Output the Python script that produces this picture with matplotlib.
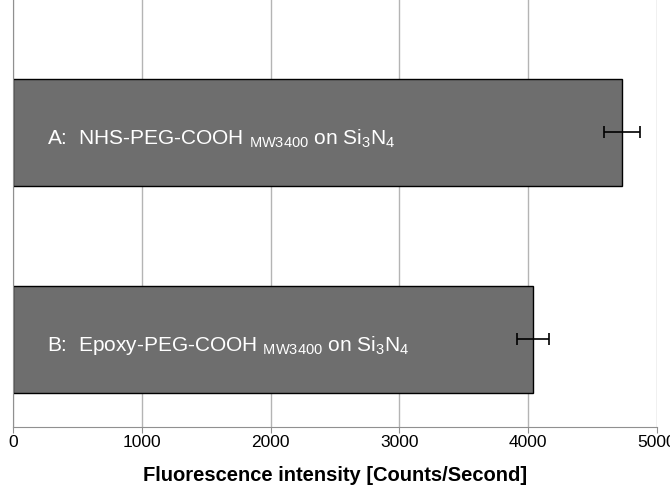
import matplotlib.pyplot as plt

plt.rcParams['font.family'] = ['Liberation Sans', 'DejaVu Sans']
plt.rcParams['mathtext.fontset'] = 'custom'
plt.rcParams['mathtext.rm'] = 'Liberation Sans'
plt.rcParams['mathtext.it'] = 'Liberation Sans'

# data (bottom to top)
LABELS = [r'B:  Epoxy-PEG-COOH $_{\mathrm{MW3400}}$ on Si$_3$N$_4$',
          r'A:  NHS-PEG-COOH $_{\mathrm{MW3400}}$ on Si$_3$N$_4$']
VALUES = [4040, 4730]
ERRORS = [125, 140]
POS = [0, 1]

fig = plt.figure(figsize=(6.7, 4.87), dpi=100)
ax = fig.add_axes([0.0194, 0.1232, 0.9612, 0.8768])

ax.barh(POS, VALUES, height=0.513, color='#6e6e6e', edgecolor='black',
        linewidth=1, zorder=2)
ax.errorbar(VALUES, POS, xerr=ERRORS, fmt='none', ecolor='black',
            elinewidth=1.2, capsize=4, capthick=1.2, zorder=3)

for p, lab in zip(POS, LABELS):
    ax.text(262, p - 0.03, lab, color='white', fontsize=15,
            va='center', ha='left', zorder=4)

ax.set_xlim(0, 5000)
ax.set_ylim(-0.423, 1.64)
ax.set_xticks(range(0, 5001, 1000))
ax.set_yticks([])
ax.xaxis.grid(True, color='#b4b4b4', linewidth=1, zorder=0)
ax.set_axisbelow(True)
for s in ('top', 'right'):
    ax.spines[s].set_visible(False)
ax.spines['bottom'].set_color('#909090')
ax.spines['left'].set_color('#909090')
ax.tick_params(axis='x', colors='#909090', labelcolor='black', labelsize=12.5,
               length=4, pad=2)
ax.set_xlabel('Fluorescence intensity [Counts/Second]', fontsize=14.5,
              fontweight='bold', labelpad=11)

fig.savefig('out.png', dpi=100)
